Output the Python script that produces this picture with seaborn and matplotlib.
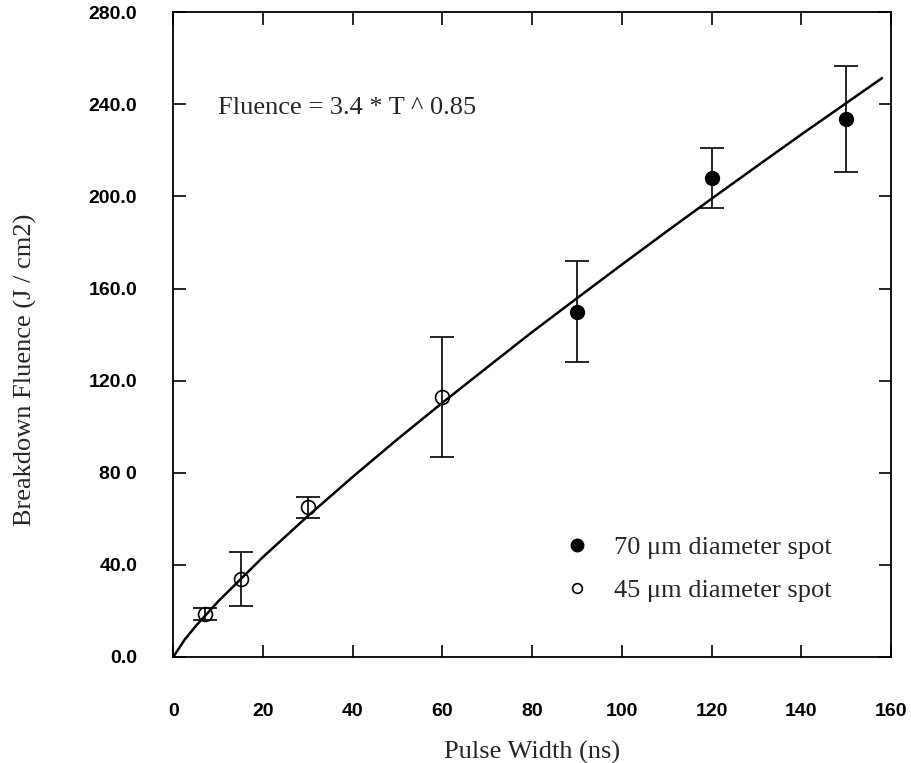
import numpy as np
import pandas as pd
import seaborn as sns
import matplotlib.pyplot as plt
from matplotlib.lines import Line2D

# fit curve (Fluence = 3.4 * T ^ 0.85)
fit_t = [0, 2.5, 5, 10, 20, 30, 40, 50, 60, 70, 80, 90, 100, 110, 120, 130, 140, 150, 158]
fit_f = [0, 7.4, 13.4, 24.1, 43.4, 61.2, 78.2, 94.6, 110.4, 125.8, 141.1, 155.8, 170.4,
         184.8, 199.0, 213.0, 226.9, 240.5, 251.4]

# 70 um spot (filled)
big_t = [90, 120, 150]
big_f = [150, 208, 233.5]
big_err = [22, 13, 23]

# 45 um spot (open)
small_t = [7, 15, 30, 60]
small_f = [18.7, 34, 65, 113]
small_err = [2.6, 11.7, 4.5, 26]

xticks = [0, 20, 40, 60, 80, 100, 120, 140, 160]
yticks = [0, 40, 80, 120, 160, 200, 240, 280]
ylabels = ["0.0", "40.0", "80 0", "120.0", "160.0", "200.0", "240.0", "280.0"]

sns.set_style("ticks")
plt.rcParams["font.family"] = ["Liberation Serif", "DejaVu Serif"]

fig = plt.figure(figsize=(9.12, 7.63), dpi=100)
ax = fig.add_axes([0.190, 0.139, 0.787, 0.845])

fit_df = pd.DataFrame({"t": fit_t, "f": fit_f})
sns.lineplot(data=fit_df, x="t", y="f", color="black", linewidth=1.8, ax=ax)

ax.errorbar(big_t, big_f, yerr=big_err, fmt="none", ecolor="black",
            elinewidth=1.2, capsize=8.5, capthick=1.2)
ax.errorbar(small_t, small_f, yerr=small_err, fmt="none", ecolor="black",
            elinewidth=1.2, capsize=8.5, capthick=1.2)
ax.plot(big_t, big_f, "o", color="black", markersize=10, zorder=5)
ax.plot(small_t, small_f, "o", markerfacecolor="none", markeredgecolor="black",
        markeredgewidth=1.2, markersize=10, zorder=5)

ax.set_xlim(0, 160)
ax.set_ylim(0, 280)
ax.set_xticks(xticks)
ax.set_xticklabels([str(v) for v in xticks])
ax.set_yticks(yticks)
ax.set_yticklabels(ylabels)
for lab in ax.get_xticklabels() + ax.get_yticklabels():
    lab.set_family(["Liberation Sans", "DejaVu Sans"])
    lab.set_fontweight("bold")
    lab.set_fontsize(14)
ax.tick_params(direction="in", length=9, width=1.2, top=True, right=True,
               labeltop=False, labelright=False, colors="black")
ax.tick_params(axis="x", pad=33)
ax.tick_params(axis="y", pad=26)
for s in ax.spines.values():
    s.set_linewidth(1.3)
    s.set_color("black")

ax.set_xlabel("Pulse Width (ns)", fontsize=19, labelpad=15)
ax.set_ylabel("Breakdown Fluence (J / cm2)", fontsize=19)
ax.yaxis.set_label_coords(-0.19, 0.445)

ax.text(10, 238.5, "Fluence = 3.4 * T ^ 0.85", fontsize=19, va="center")

handles = [
    Line2D([], [], marker="o", linestyle="none", color="black", markersize=9),
    Line2D([], [], marker="o", linestyle="none", markerfacecolor="none",
           markeredgecolor="black", markeredgewidth=1.2, markersize=7),
]
ax.legend(handles, ["70 \u03bcm diameter spot", "45 \u03bcm diameter spot"],
          loc="upper left", bbox_to_anchor=(0.511, 0.225), frameon=False,
          fontsize=19, handletextpad=0.9, labelspacing=0.75, handlelength=1.0)

fig.savefig("out.png", dpi=100)
